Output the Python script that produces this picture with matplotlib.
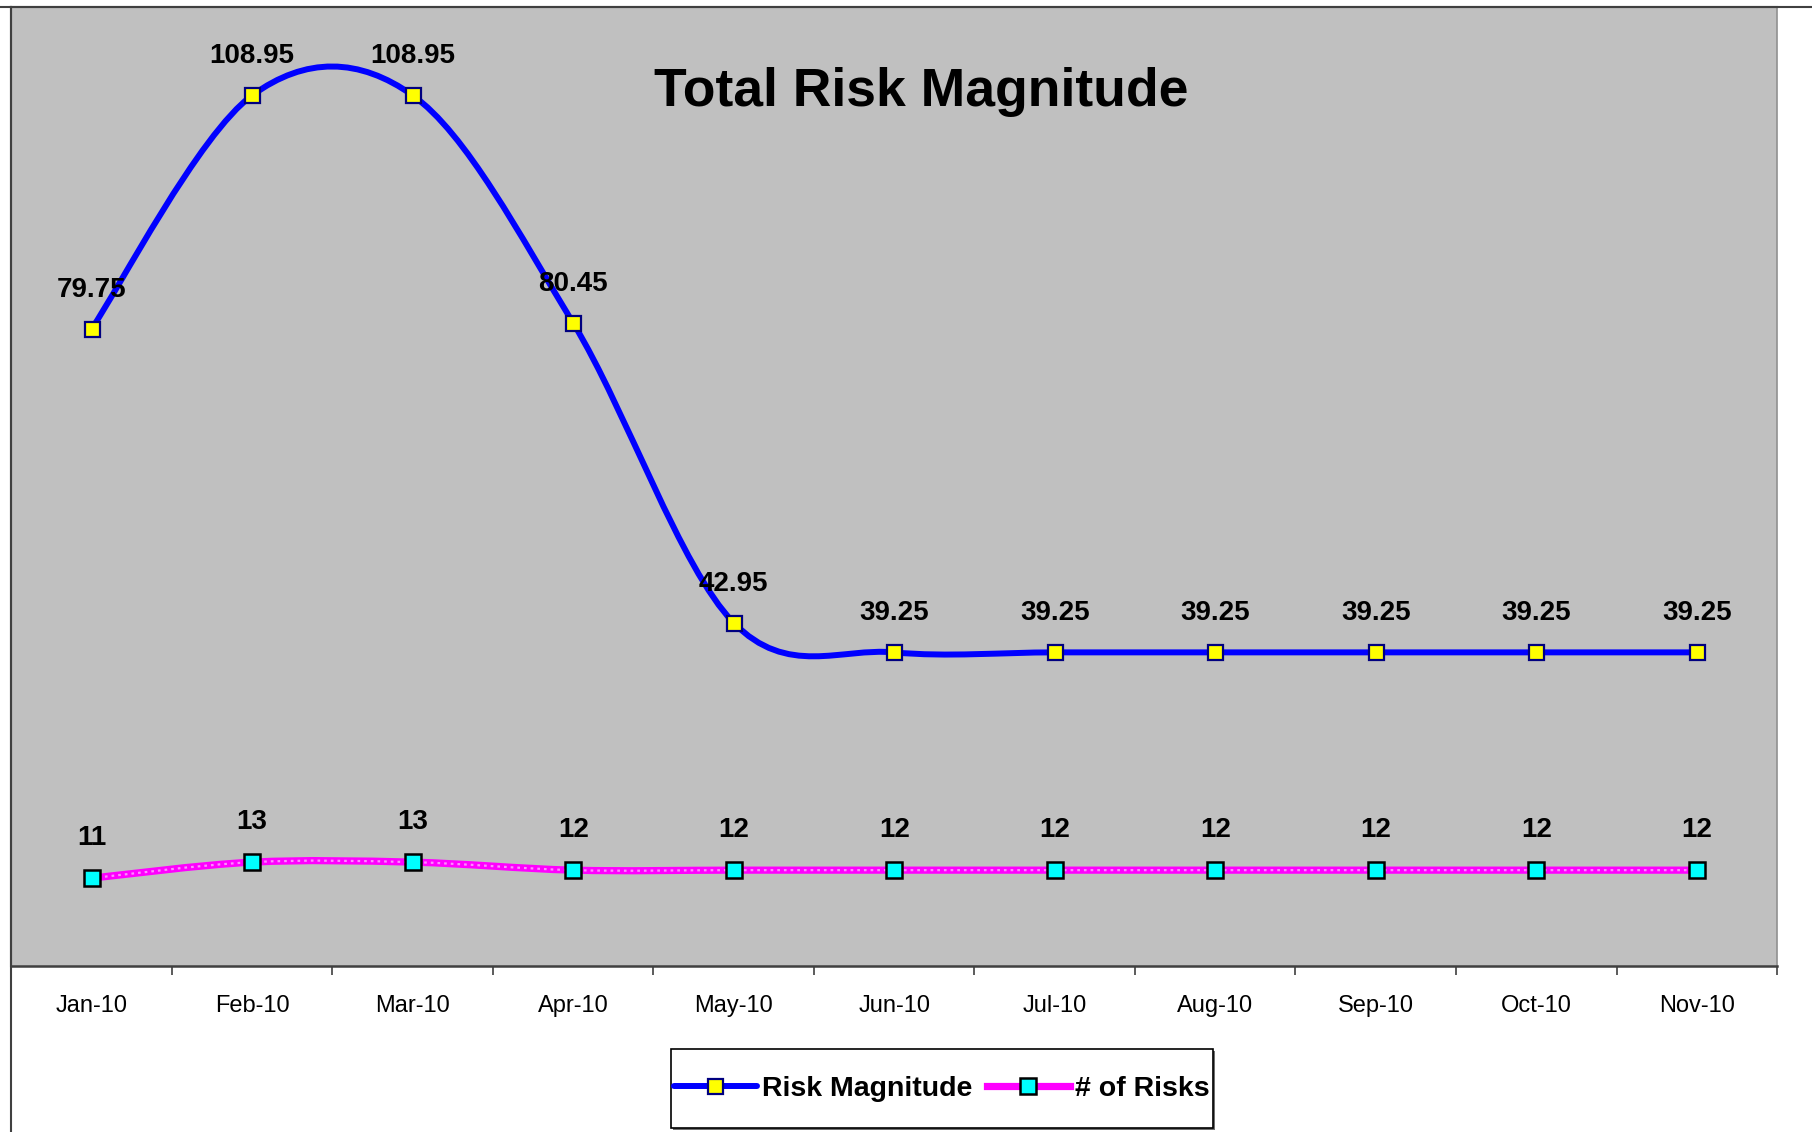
import matplotlib
matplotlib.use("Agg")
import matplotlib.pyplot as plt
from matplotlib.path import Path
from matplotlib.patches import PathPatch, Rectangle
from matplotlib.lines import Line2D
import numpy as np

months = ["Jan-10", "Feb-10", "Mar-10", "Apr-10", "May-10", "Jun-10",
          "Jul-10", "Aug-10", "Sep-10", "Oct-10", "Nov-10"]
risk_magnitude = [79.75, 108.95, 108.95, 80.45, 42.95, 39.25,
                  39.25, 39.25, 39.25, 39.25, 39.25]
num_risks = [11, 13, 13, 12, 12, 12, 12, 12, 12, 12, 12]
title = "Total Risk Magnitude"
series_names = ["Risk Magnitude", "# of Risks"]

FONT = ["Liberation Sans", "DejaVu Sans"]


def smooth_path(xs, ys):
    """Excel-like smoothed line drawn as cubic Bezier segments."""
    pts = np.column_stack([xs, ys]).astype(float)
    n = len(pts)
    verts = [tuple(pts[0])]
    codes = [Path.MOVETO]
    for i in range(n - 1):
        p0 = pts[i - 1] if i > 0 else pts[i]
        p1 = pts[i]
        p2 = pts[i + 1]
        p3 = pts[i + 2] if i + 2 < n else pts[i + 1]
        c1 = p1 + (p2 - p0) / 6.0
        c2 = p2 - (p3 - p1) / 6.0
        verts += [tuple(c1), tuple(c2), tuple(p2)]
        codes += [Path.CURVE4] * 3
    return Path(verts, codes)


W, H = 1812, 1132
fig = plt.figure(figsize=(W / 100, H / 100), dpi=100)
ax = fig.add_axes([0.0063, 0.1466, 0.9807 - 0.0063, 0.9938 - 0.1466])
ax.set_facecolor("#C0C0C0")

x = np.arange(len(months))

# Risk Magnitude
p1 = PathPatch(smooth_path(x, risk_magnitude), facecolor="none",
               edgecolor="#0000FF", lw=4.3, capstyle="round", joinstyle="round", zorder=3)
ax.add_patch(p1)
ax.plot(x, risk_magnitude, linestyle="none", marker="s", markersize=10.8,
        markerfacecolor="#FFFF00", markeredgecolor="#000080", markeredgewidth=1.6, zorder=5)

# # of Risks
p2 = PathPatch(smooth_path(x, num_risks), facecolor="none",
               edgecolor="#FF00FF", lw=5.2, zorder=3)
ax.add_patch(p2)
p2b = PathPatch(smooth_path(x, num_risks), facecolor="none",
                edgecolor="#FF8CFF", lw=1.6, linestyle=(0, (1.2, 1.8)), zorder=3)
ax.add_patch(p2b)
ax.plot(x, num_risks, linestyle="none", marker="s", markersize=11.2,
        markerfacecolor="#00FFFF", markeredgecolor="#000000", markeredgewidth=1.8, zorder=5)

for xi, v in zip(x, risk_magnitude):
    ax.annotate(f"{v:.2f}", (xi, v), xytext=(0, 23), textcoords="offset points",
                ha="center", va="baseline", fontsize=20, fontweight="bold",
                family=FONT, color="black", zorder=6)
for xi, v in zip(x, num_risks):
    ax.annotate(f"{v}", (xi, v), xytext=(0, 24), textcoords="offset points",
                ha="center", va="baseline", fontsize=20, fontweight="bold",
                family=FONT, color="black", zorder=6)

ax.set_xlim(-0.5, len(months) - 0.5)
ax.set_ylim(0, 120)
ax.set_yticks([])
ax.set_xticks(x)
ax.set_xticklabels(months, fontsize=17, family=FONT)
ax.tick_params(axis="x", which="major", length=0, pad=21)
ax.set_xticks(np.arange(-0.5, len(months)), minor=True)
ax.tick_params(axis="x", which="minor", length=6.5, width=1.2, color="#404040", direction="out")

for s in ["top", "left"]:
    ax.spines[s].set_color("#404040")
    ax.spines[s].set_linewidth(1.5)
ax.spines["bottom"].set_color("#404040")
ax.spines["bottom"].set_linewidth(1.8)
ax.spines["right"].set_color("#909090")
ax.spines["right"].set_linewidth(1.2)

# chart-area border (top and left visible)
fig.add_artist(Line2D([0, 1], [0.9938, 0.9938], transform=fig.transFigure,
                      color="#404040", lw=1.5))
fig.add_artist(Line2D([0.0063, 0.0063], [0, 0.9938], transform=fig.transFigure,
                      color="#404040", lw=1.5))

fig.text(921.5 / W, 1 - 106 / H, title, ha="center", va="baseline",
         fontsize=38.5, fontweight="bold", family=FONT, color="black")

# legend box
fig.add_artist(Rectangle((673 / W, 1 - 1130 / H), 5 / W * 108.4, 79 / H,
                         transform=fig.transFigure, facecolor="#707070",
                         edgecolor="none", zorder=3.9))
fig.add_artist(Rectangle((671 / W, 1 - 1128 / H), (1213 - 671) / W, 79 / H,
                         transform=fig.transFigure, facecolor="white",
                         edgecolor="black", lw=1.2, zorder=4))

handles = [
    Line2D([], [], color="#0000FF", lw=4.3, marker="s", markersize=10.8,
           markerfacecolor="#FFFF00", markeredgecolor="#000080", markeredgewidth=1.6,
           solid_capstyle="round"),
    Line2D([], [], color="#FF00FF", lw=5.2, marker="s", markersize=11.2,
           markerfacecolor="#00FFFF", markeredgecolor="#000000", markeredgewidth=1.8),
]
leg = fig.legend(handles, series_names, loc="center",
                 bbox_to_anchor=(942 / W, 1 - 1089 / H), ncol=2,
                 prop={"family": FONT, "weight": "bold", "size": 20.5},
                 frameon=False,
                 handlelength=2.9, handletextpad=0.2, columnspacing=0.5,
                 borderpad=0.2, borderaxespad=0)
leg.set_zorder(5)

fig.savefig("out.png", dpi=100)
